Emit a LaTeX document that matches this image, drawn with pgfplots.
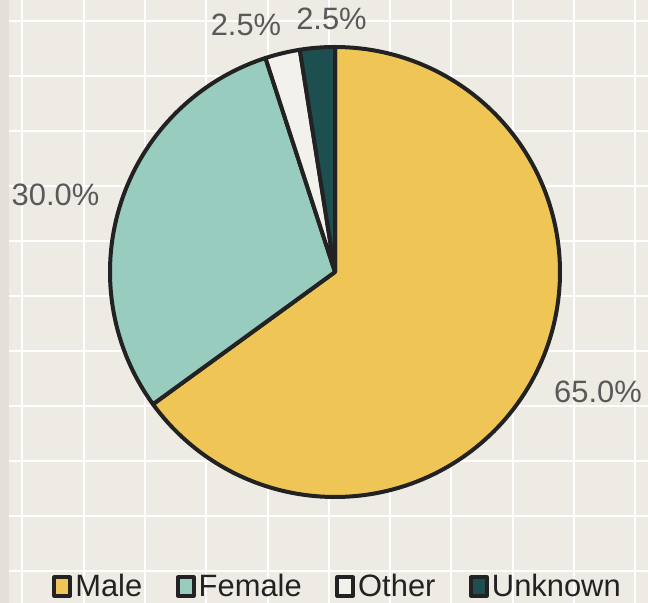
\documentclass[border=0pt]{standalone}
\usepackage{fontspec}
\setmainfont{Liberation Sans}
\usepackage{pgfplots}
\pgfplotsset{compat=1.18}

\definecolor{bgpanel}{HTML}{EDEBE4}
\definecolor{bgstrip}{HTML}{E2E0D9}
\definecolor{cMale}{HTML}{EFC656}
\definecolor{cFemale}{HTML}{98CCBE}
\definecolor{cOther}{HTML}{F3F1EC}
\definecolor{cUnknown}{HTML}{1D4F50}
\definecolor{outl}{HTML}{222222}
\definecolor{labgrey}{HTML}{595959}

% shares in percent
\def\vMale{65.0}
\def\vFemale{30.0}
\def\vOther{2.5}
\def\vUnknown{2.5}

% pie centre and radius, in picture pixels
\def\cx{335}
\def\cy{331}
\def\rr{225}

\pgfmathsetmacro{\aA}{90}
\pgfmathsetmacro{\aB}{\aA-3.6*\vMale}
\pgfmathsetmacro{\aC}{\aB-3.6*\vFemale}
\pgfmathsetmacro{\aD}{\aC-3.6*\vOther}
\pgfmathsetmacro{\aE}{\aD-3.6*\vUnknown}

\begin{document}
\begin{tikzpicture}
\useasboundingbox (0,0) rectangle (648bp,603bp);
\fill[bgstrip] (0,0) rectangle (9bp,603bp);
\begin{axis}[
  at={(9bp,0)}, anchor=south west,
  scale only axis, width=639bp, height=603bp,
  xmin=9, xmax=648, ymin=0, ymax=603,
  axis background/.style={fill=bgpanel},
  axis line style={draw=none},
  major tick length=0pt,
  xticklabels={}, yticklabels={},
  xtick={22.3,83.6,144.9,206.2,267.5,328.8,390.1,451.4,512.7,574.0,635.3},
  ytick={32,87,142,197,252,307,362,417,472,527,582},
  grid=major,
  major grid style={white, line width=2bp},
  clip=false,
  legend columns=4,
  legend style={at={(axis cs:338,16.5)}, anchor=center, draw=none, fill=none,
    font=\fontsize{31}{36}\selectfont, text=outl,
    /tikz/every even column/.append style={column sep=30.5bp},
    nodes={inner sep=3bp}},
  legend image code/.code={\draw[#1, line width=4bp] (0bp,-9bp) rectangle (16bp,9bp);},
  every axis plot/.append style={draw=outl, line width=4bp, line join=round, samples=150},
]
\addplot[fill=cMale, domain=\aB:\aA] ({\cx+\rr*cos(x)},{\cy+\rr*sin(x)}) -- (axis cs:\cx,\cy) -- cycle;
\addlegendentry{Male}
\addplot[fill=cFemale, domain=\aC:\aB] ({\cx+\rr*cos(x)},{\cy+\rr*sin(x)}) -- (axis cs:\cx,\cy) -- cycle;
\addlegendentry{Female}
\addplot[fill=cOther, domain=\aD:\aC, samples=20] ({\cx+\rr*cos(x)},{\cy+\rr*sin(x)}) -- (axis cs:\cx,\cy) -- cycle;
\addlegendentry{Other}
\addplot[fill=cUnknown, domain=\aE:\aD, samples=20] ({\cx+\rr*cos(x)},{\cy+\rr*sin(x)}) -- (axis cs:\cx,\cy) -- cycle;
\addlegendentry{Unknown}

\begin{scope}[every node/.style={anchor=base, font=\fontsize{31}{36}\selectfont, text=labgrey, inner sep=0pt}]
\node at (axis cs:598,200) {65.0\%};
\node at (axis cs:55.5,397) {30.0\%};
\node at (axis cs:246,567) {2.5\%};
\node at (axis cs:331.5,573) {2.5\%};
\end{scope}
\end{axis}
\end{tikzpicture}
\end{document}
